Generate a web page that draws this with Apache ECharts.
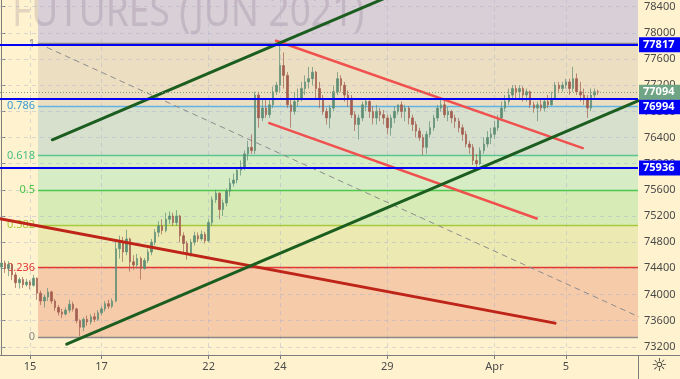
<!DOCTYPE html>
<html><head><meta charset="utf-8">
<script src="https://cdn.jsdelivr.net/npm/echarts@6/dist/echarts.min.js"></script>
<style>html,body{margin:0;padding:0;background:#FFF3CF;}#c{width:680px;height:379px;}</style>
</head><body><div id="c"></div>
<script>
// ---------- data ----------
const xTickBars = [8, 28, 58, 78, 108, 138, 158];
const xTickLabels = ['15', '17', '22', '24', '29', 'Apr', '5'];
const yTicks = [73200, 73600, 74000, 74400, 74800, 75200, 75600, 76000, 76400, 76800, 77200, 77600, 78000, 78400];

// hourly-ish candles: [open, close, low, high], index = bar number
const candles = [
 [74420,74480,74300,74500],[74480,74400,74330,74520],[74400,74460,74280,74510],[74460,74300,74220,74480],
 [74300,74180,74100,74340],[74180,74230,74090,74260],[74230,74150,74100,74270],[74150,74190,74120,74240],
 [74190,74140,74080,74220],[74140,74250,74120,74300],[74250,74020,73920,74260],[74020,73900,73840,74060],
 [73900,73960,73800,74000],[73960,74040,73900,74100],[74040,73900,73860,74060],[73900,73800,73750,73930],
 [73800,73730,73680,73840],[73730,73700,73640,73780],[73700,73760,73680,73800],[73760,73850,73720,73920],
 [73850,73780,73740,73890],[73780,73600,73560,73800],[73600,73500,73360,73620],[73500,73620,73440,73650],
 [73620,73580,73520,73680],[73580,73660,73540,73700],[73660,73620,73580,73720],[73620,73720,73600,73760],
 [73720,73780,73680,73820],[73780,73860,73740,73900],[73860,73820,73780,73920],[73820,73900,73790,73940],
 [73900,74700,73880,74800],[74700,74800,74550,74900],[74800,74650,74500,74880],[74650,74850,74600,74990],
 [74850,74500,74350,74870],[74500,74450,74380,74600],[74450,74550,74400,74620],[74550,74400,74230,74580],
 [74400,74520,74380,74560],[74520,74650,74480,74700],[74650,74800,74600,74850],[74800,74950,74750,75000],
 [74950,75050,74880,75120],[75050,74980,74920,75150],[74980,75150,74950,75250],[75150,75200,75080,75270],
 [75200,75100,75050,75250],[75100,75200,75050,75290],[75200,74900,74800,75220],[74900,74780,74650,74950],
 [74780,74620,74530,74820],[74620,74800,74580,74850],[74800,74900,74750,74960],[74900,74850,74800,74950],
 [74850,74920,74820,74980],[74920,74820,74780,74960],[74820,75100,74800,75150],[75100,75450,75050,75500],
 [75450,75550,75400,75600],[75550,75300,75150,75560],[75300,75400,75200,75450],[75400,75580,75350,75620],
 [75580,75700,75500,75780],[75700,75750,75650,75850],[75750,75900,75700,75950],[75900,75950,75820,76050],
 [75950,76150,75900,76200],[76150,76250,76050,76350],[76250,76200,76150,76450],[76200,77050,76150,77100],
 [77050,76700,76550,77100],[76700,76850,76650,77000],[76850,76750,76700,77000],[76750,76900,76700,76980],
 [76900,77100,76850,77180],[77100,77200,77050,77250],[77200,77500,77100,77850],[77500,77350,77150,77700],
 [77350,76900,76850,77400],[76900,76800,76550,77000],[76800,76950,76750,77100],[76950,77000,76880,77150],
 [77000,77150,76950,77250],[77150,77250,77050,77350],[77250,77300,77150,77480],[77300,77400,77200,77480],
 [77400,77150,77000,77420],[77150,77000,76850,77250],[77000,76800,76750,77050],[76800,76700,76600,76850],
 [76700,76850,76540,76900],[76850,77100,76800,77200],[77100,77300,77050,77400],[77300,77200,77100,77350],
 [77200,77050,76950,77250],[77050,77000,76870,77120],[77000,76750,76700,77050],[76750,76600,76500,76800],
 [76600,76700,76370,76750],[76700,76900,76650,76950],[76900,76950,76800,77000],[76950,76800,76700,76980],
 [76800,76700,76600,76880],[76700,76800,76600,76900],[76800,76750,76650,76850],[76750,76700,76600,76820],
 [76700,76550,76450,76750],[76550,76700,76430,76750],[76700,76800,76620,76880],[76800,76900,76750,76900],
 [76900,76800,76700,76950],[76800,76850,76650,76900],[76850,76700,76600,76880],[76700,76600,76500,76750],
 [76600,76500,76400,76650],[76500,76400,76350,76550],[76400,76250,76130,76450],[76250,76450,76150,76500],
 [76450,76550,76400,76650],[76550,76700,76500,76750],[76700,76850,76650,76900],[76850,76900,76800,77000],
 [76900,76750,76700,76980],[76750,76800,76650,76870],[76800,76700,76620,76820],[76700,76650,76550,76750],
 [76650,76550,76480,76700],[76550,76450,76350,76600],[76450,76300,76250,76500],[76300,76250,76150,76350],
 [76250,76050,75980,76300],[76050,76000,75950,76150],[76000,76200,75980,76250],[76200,76300,76150,76400],
 [76300,76400,76250,76500],[76400,76450,76300,76550],[76450,76550,76380,76650],[76550,76700,76500,76750],
 [76700,76850,76650,76950],[76850,76950,76800,77050],[76950,77050,76900,77150],[77050,77150,77000,77200],
 [77150,77100,77000,77200],[77100,77150,77000,77200],[77150,77050,76950,77180],[77050,77100,76950,77150],
 [77100,76900,76850,77120],[76900,76850,76780,76950],[76850,76900,76650,76950],[76900,76850,76800,76980],
 [76850,76950,76800,77000],[76950,76900,76850,77050],[76900,77000,76880,77100],[77000,77200,76980,77250],
 [77200,77150,77100,77250],[77150,77200,77100,77250],[77200,77250,77150,77300],[77250,77150,77050,77300],
 [77150,77300,77100,77480],[77300,77100,77050,77380],[77100,77050,76950,77250],[77050,77000,76900,77150],
 [77000,76850,76700,77050],[76850,77050,76800,77150],[77050,77100,77000,77150],[77100,77094,77050,77130]
];

// Fibonacci retracement
const fibLevels = [0, 0.236, 0.382, 0.5, 0.618, 0.786, 1];
const fibLabels = ['0', '0.236', '0.382', '0.5', '0.618', '0.786', '1'];
const fibLow = 73350, fibHigh = 77840;
const fibStart = [10.24, 77840];
const fibEnd = [190.8, 73350];

// horizontal levels and last price
const levelLines = [77817, 76994, 75936];
const lastPrice = 77094;

// trend lines [bar, price]
const greenUpper = [[14.24, 76366], [125.5, 78954]];
const greenLower = [[18.27, 73241], [178.16, 76962]];
const redUpper = [[76.85, 77880], [162.69, 76239]];
const redLower = [[74.97, 76621], [149.81, 75162]];
const darkRed = [[-0.4, 75157], [154.94, 73562]];

// ---------- chart ----------
const X_MIN = -0.4, X_MAX = 178.16, Y_MIN = 73075, Y_MAX = 78503;
const FONT = '"Noto Sans", sans-serif';
const fibLineColors = ['#8a8a8a', '#e53935', '#a4c93c', '#4cc84c', '#5cc493', '#62b2e6', '#8a8a8a'];
const fibTextColors = ['#8a8a8a', '#e53935', '#a9c93a', '#48c448', '#45bd86', '#3e9bd6', '#8a8a8a'];
const zoneColors = ['#F5CBAA', '#ECEAB2', '#D6EBB5', '#D6ECC5', '#D7E0CD', '#ECDEC0'];
const topZoneColor = '#D9CFD6';

const fibPrice = l => fibLow + l * (fibHigh - fibLow);

const zoneData = [];
for (let k = 0; k < fibLevels.length - 1; k++) {
  zoneData.push([{ coord: [fibStart[0], fibPrice(fibLevels[k])], itemStyle: { color: zoneColors[k] } },
                 { coord: [X_MAX, fibPrice(fibLevels[k + 1])] }]);
}
zoneData.push([{ coord: [fibStart[0], fibPrice(1)], itemStyle: { color: topZoneColor } }, { coord: [X_MAX, Y_MAX] }]);

const fibLineData = fibLevels.map((l, k) => [
  { coord: [fibStart[0], fibPrice(l)], lineStyle: { color: fibLineColors[k] },
    label: { formatter: fibLabels[k], color: fibTextColors[k] } },
  { coord: [X_MAX, fibPrice(l)] }
]);

const gridData = yTicks.map(v => ({ yAxis: v })).concat(xTickBars.map(b => ({ xAxis: b })));

// label offsets avoid overlap of the right-hand price boxes
const levelLabelShift = [0, 8, 0];

const chart = echarts.init(document.getElementById('c'), null, { renderer: 'canvas' });
const lineSeries = (name, data, color, width, z, type) => ({
  name, type: 'line', data, showSymbol: false, symbol: 'none', z, clip: true, silent: true,
  lineStyle: { color, width, type: type || 'solid', cap: 'round' }, animation: false
});

chart.setOption({
  animation: false,
  backgroundColor: '#FFF3CF',
  textStyle: { fontFamily: FONT },
  grid: { left: 0, right: 42, top: 0, bottom: 24 },
  xAxis: {
    type: 'value', min: X_MIN, max: X_MAX,
    axisLine: { show: true, lineStyle: { color: '#7d7d7d' } },
    axisTick: { show: true, length: 4, customValues: xTickBars, lineStyle: { color: '#7d7d7d' } },
    axisLabel: { customValues: xTickBars, formatter: v => xTickLabels[xTickBars.indexOf(v)], color: '#4a4a4a', fontSize: 11, margin: 6, fontFamily: FONT },
    splitLine: { show: false }
  },
  yAxis: {
    type: 'value', position: 'right', min: Y_MIN, max: Y_MAX,
    axisLine: { show: true, lineStyle: { color: '#7d7d7d' } },
    axisTick: { show: true, length: 4, customValues: yTicks, lineStyle: { color: '#7d7d7d' } },
    axisLabel: { customValues: yTicks, formatter: v => String(v), color: '#4a4a4a', fontSize: 11, margin: 6, fontFamily: FONT },
    splitLine: { show: false }
  },
  graphic: [
    { type: 'text', x: 12, y: -7.5, scaleX: 0.86, z: 2, silent: true,
      style: { text: 'FUTURES (JUN 2021)', font: '43px "Noto Sans"', fill: 'rgba(110,90,125,0.2)' } },
    { type: 'line', z: 10, shape: { x1: 638.5, y1: 355, x2: 638.5, y2: 379 }, style: { stroke: '#7d7d7d', lineWidth: 1 } },
    { type: 'line', z: 10, shape: { x1: 638, y1: 355.5, x2: 680, y2: 355.5 }, style: { stroke: '#7d7d7d', lineWidth: 1 } },
    { type: 'text', left: 651, top: 357, z: 10, style: { text: '\u263C', font: '18px "DejaVu Sans"', fill: '#333' } }
  ],
  series: [
    { name: 'zones', type: 'line', data: [], z: 1, silent: true,
      markArea: { z: 1, silent: true, data: zoneData, itemStyle: { opacity: 1 } } },
    { name: 'grid', type: 'line', data: [], z: 3, silent: true,
      markLine: { z: 3, silent: true, symbol: 'none', label: { show: false },
        lineStyle: { color: 'rgba(170,178,205,0.45)', type: [4, 4], width: 1 }, data: gridData } },
    { name: 'fib', type: 'line', data: [], z: 4, silent: true,
      markLine: { z: 4, silent: true, symbol: 'none',
        label: { show: true, position: 'start', distance: 3, fontSize: 11, fontFamily: FONT },
        lineStyle: { width: 1.3, type: 'solid' }, data: fibLineData } },
    lineSeries('fibTrend', [fibStart, fibEnd], '#8c8c8c', 1, 4, [5, 5]),
    { name: 'price', type: 'candlestick', z: 5, silent: true, barWidth: 2,
      encode: { x: 0, y: [1, 2, 3, 4] },
      data: candles.map((c, i) => [i, c[0], c[1], c[2], c[3]]),
      itemStyle: { color: '#5E8E75', color0: '#A35E50', borderColor: '#5E8E75', borderColor0: '#A35E50', borderWidth: 0.7 } },
    lineSeries('darkRed', darkRed, '#BE2418', 3, 6),
    lineSeries('redUpper', redUpper, '#F0504E', 2.5, 6),
    lineSeries('redLower', redLower, '#F0504E', 2.5, 6),
    lineSeries('greenUpper', greenUpper, '#1B5E20', 3, 6),
    lineSeries('greenLower', greenLower, '#1B5E20', 3, 6),
    { name: 'levels', type: 'line', data: [], z: 7, silent: true,
      markLine: { z: 7, silent: true, symbol: 'none',
        lineStyle: { color: '#0000F5', width: 2, type: 'solid' },
        label: { show: true, position: 'end', distance: 1, formatter: '{c}', color: '#fff', backgroundColor: '#0000F5',
          padding: [2, 6, 2, 4], fontSize: 11, fontWeight: 'bold', fontFamily: FONT },
        data: levelLines.map((v, k) => ({ yAxis: v, label: { offset: [0, levelLabelShift[k]] } })) } },
    { name: 'last', type: 'line', data: [], z: 7, silent: true,
      markLine: { z: 7, silent: true, symbol: 'none',
        lineStyle: { color: '#7F9F7F', width: 1, type: [1, 2] },
        label: { show: true, position: 'end', distance: 1, formatter: '{c}', color: '#fff', backgroundColor: '#6FA585',
          padding: [2, 6, 2, 4], fontSize: 11, fontWeight: 'bold', fontFamily: FONT },
        data: [{ yAxis: lastPrice, label: { offset: [0, 0] } }] } }
  ]
});
</script></body></html>
